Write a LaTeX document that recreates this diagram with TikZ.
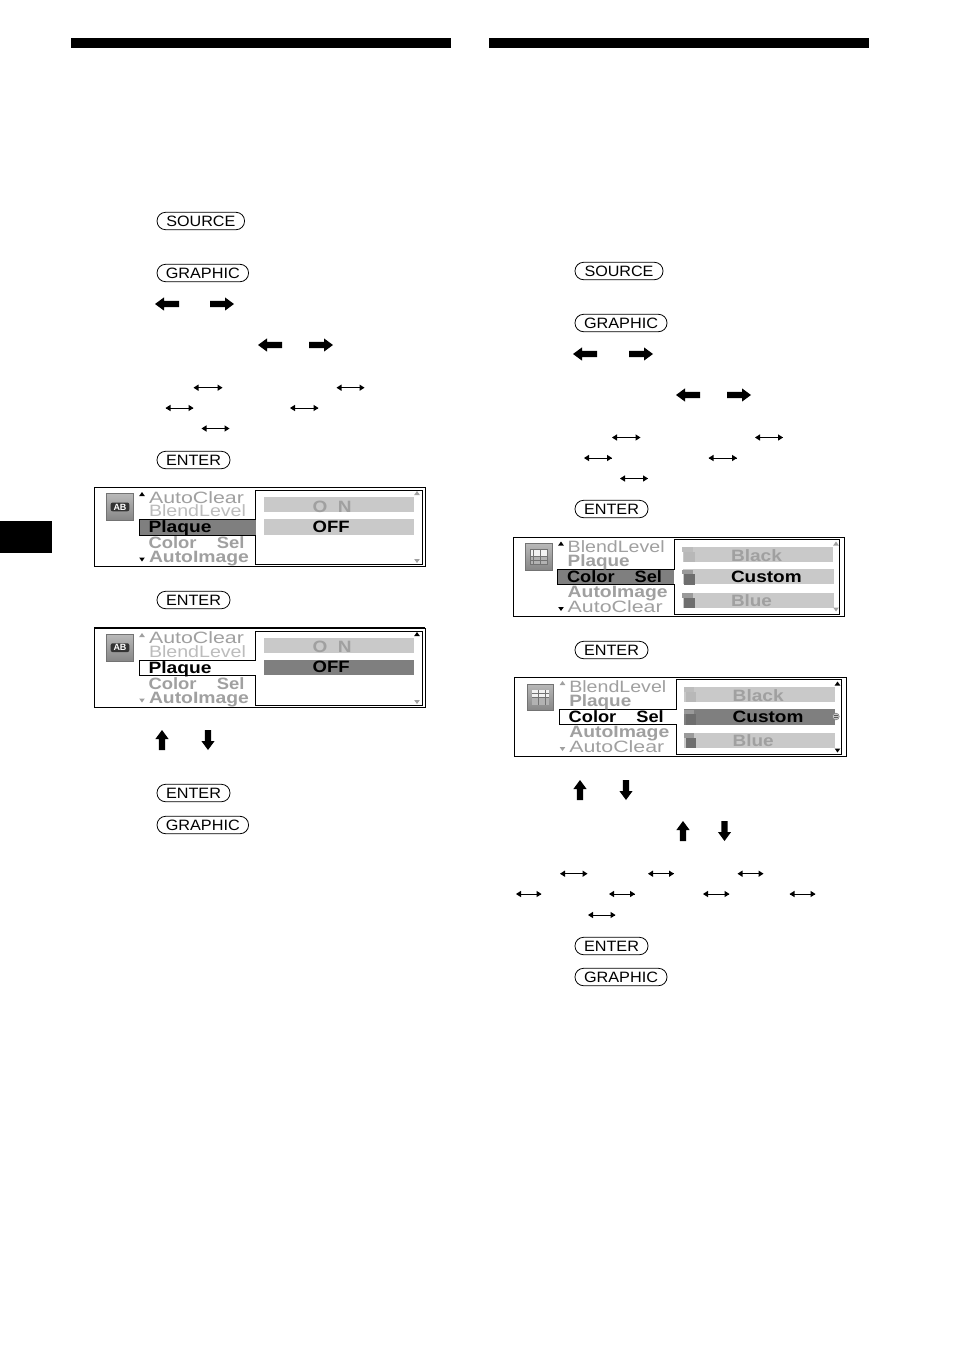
\documentclass[tikz,border=0pt]{standalone}
\usepackage{fontspec}
\setmainfont{Liberation Sans}
\usetikzlibrary{calc}
\definecolor{dim}{HTML}{A0A0A0}
\definecolor{barc}{HTML}{C9C9C9}
\definecolor{hil}{HTML}{7F7F7F}
\definecolor{swd}{HTML}{6E6E6E}
\definecolor{swm}{HTML}{9A9A9A}
\definecolor{swl}{HTML}{B8B8B8}
\newcounter{nn}
% label: x, baseline, colour, series, width, text
\newcommand{\lbl}[6]{\stepcounter{nn}\edef\nm{t\arabic{nn}}%
  \node[lab,text=#3] (\nm) at (#1,#2+0.4) {\resizebox{#5pt}{\height}{\fontsize{16.4}{16.4}#4\selectfont #6}};}
\newcommand{\key}[4]{\stepcounter{nn}\edef\nm{b\arabic{nn}}%
  \node[keybtn,minimum width=#3pt] (\nm) at (#1,#2) {\fontsize{15}{15}\selectfont\resizebox{\keyw{#4}pt}{\height}{#4}};}
\newcommand{\keyw}[1]{\csname kw#1\endcsname}
\expandafter\def\csname kwSOURCE\endcsname{69}
\expandafter\def\csname kwGRAPHIC\endcsname{74}
\expandafter\def\csname kwENTER\endcsname{55}
% thick horizontal arrows: centre x,y
\newcommand{\bigL}[2]{\fill[shift={(#1,#2)}] (-12,0)--(-3,-6.6)--(-3,-3.2)--(12,-3.2)--(12,3.2)--(-3,3.2)--(-3,6.6)--cycle;}
\newcommand{\bigR}[2]{\fill[shift={(#1,#2)},xscale=-1] (-12,0)--(-3,-6.6)--(-3,-3.2)--(12,-3.2)--(12,3.2)--(-3,3.2)--(-3,6.6)--cycle;}
\newcommand{\bigU}[2]{\fill[shift={(#1,#2)}] (0,-10)--(6.6,-1)--(3.2,-1)--(3.2,10)--(-3.2,10)--(-3.2,-1)--(-6.6,-1)--cycle;}
\newcommand{\bigD}[2]{\fill[shift={(#1,#2)},yscale=-1] (0,-10)--(6.6,-1)--(3.2,-1)--(3.2,10)--(-3.2,10)--(-3.2,-1)--(-6.6,-1)--cycle;}
% thin double arrow: x0,x1,y
\newcommand{\dbl}[3]{\draw[line width=0.9] (#1,#3)--(#2,#3);
  \fill (#1,#3)++(-0.5,0)--++(5,-3.2)--++(0,6.4)--cycle;
  \fill (#2,#3)++(0.5,0)--++(-5,-3.2)--++(0,6.4)--cycle;}
% small triangle: x,y,direction(1 up,-1 down),colour
\newcommand{\tri}[4]{\fill[#4,shift={(#1,#2)},yscale=#3] (-2.8,2)--(2.8,2)--(0,-2)--cycle;}
\newcommand{\iconbase}[2]{\shade[top color=gray!55,bottom color=gray!95,shift={(#1,#2)}] (0,0) rectangle (26.6,26.6);
  \draw[gray!90!black,line width=0.6,shift={(#1,#2)}] (0,0) rectangle (26.6,26.6);}
\newcommand{\abicon}[2]{\iconbase{#1}{#2}
  \fill[black!80,rounded corners=2,shift={(#1,#2)}] (4,8.8) rectangle (22.6,17.6);
  \stepcounter{nn}\edef\nm{i\arabic{nn}}%
  \node[inner sep=0pt,text=white] (\nm) at ($(#1,#2)+(13.3,13.2)$) {\fontsize{9}{9}\bfseries\selectfont AB};}
\newcommand{\gridicon}[2]{\iconbase{#1}{#2}
  \begin{scope}[shift={(#1,#2)}]
  \fill[black!55] (4.5,5.5) rectangle (22.2,21);
  \foreach \i in {0,...,4}{\foreach \j in {0,...,3}{
    \pgfmathsetmacro{\sh}{\j>=2 ? 70 : 95}
    \fill[white!\sh!black] (5+\i*3.45,6+\j*3.8) rectangle ++(2.8,3.1);}}
  \end{scope}}
\newcommand{\sw}[5]{\fill[#5] (#1-1.8,#2) rectangle (#3-2,#2+4.5);\fill[#4] (#1,#2+4.5) rectangle (#3,#2+15);}
\tikzset{
  lab/.style={anchor=base west,inner sep=0pt,outer sep=0pt},
  keybtn/.style={draw,line width=0.8,rounded corners=8.5pt,minimum height=17.4pt,inner sep=0pt,outer sep=0pt,anchor=center,text height=10.6pt,text depth=0pt},
  scr/.style={draw,line width=1,fill=white},
  pane/.style={draw,line width=1},
  rule/.style={fill=black}
}
\begin{document}
\begin{tikzpicture}[x=1pt,y=-1pt]
\useasboundingbox (0,0) rectangle (954,1352);
\fill[white] (0,0) rectangle (954,1352);
% page elements
\fill[rule] (71,38) rectangle (451,48);
\fill[rule] (489,38) rectangle (869,48);
\fill[rule] (0,521) rectangle (52,553);

% ---------- left column keys
\key{200.8}{221}{87.5}{SOURCE}
\key{202.8}{273}{91.5}{GRAPHIC}
\bigL{167}{304}\bigR{222}{304}
\bigL{270}{345}\bigR{321}{345}
\dbl{194}{222}{387.7}\dbl{337}{364}{387.7}
\dbl{166}{193}{408}\dbl{290.5}{318}{408}
\dbl{202}{229}{428.5}
\key{193.5}{460}{73}{ENTER}
\key{193.5}{600}{73}{ENTER}
\bigU{162}{740}\bigD{208}{740}
\key{193.5}{793}{73}{ENTER}
\key{202.8}{825}{91.5}{GRAPHIC}

% ---------- screen 1
\draw[scr] (94.3,487.3) rectangle (425.3,566.7);
\fill[hil] (139.3,519.3) rectangle (255.7,535.5);
\draw[pane] (255.7,490)--(255.7,519.3)--(139.3,519.3)--(139.3,535.5)--(255.7,535.5)--(255.7,564)--(422.6,564)--(422.6,490)--cycle;
\fill[barc] (264,497) rectangle (414,512);
\fill[barc] (264,519) rectangle (414,535);
\abicon{106.7}{493.7}
\tri{142}{494}{1}{black}\tri{142}{559.5}{-1}{black}
\tri{417}{493}{1}{dim}\tri{417}{561}{-1}{dim}
\lbl{149}{502.7}{dim}{}{95}{AutoClear}
\lbl{149}{516}{dim!70!white}{}{97}{BlendLevel}
\lbl{148.5}{531.7}{black}{\bfseries}{63}{Plaque}
\lbl{148.5}{548.3}{dim}{\bfseries}{96}{Color\hspace{1.1em}Sel}
\lbl{149}{561.7}{dim}{\bfseries}{100}{AutoImage}
\lbl{312.7}{511.7}{dim}{\bfseries}{39}{O\hspace{0.55em}N}
\lbl{312.7}{531.7}{black}{\bfseries}{37}{OFF}

% ---------- screen 2
\draw[scr] (94.3,628) rectangle (425.3,707.5);
\draw[line width=1.7] (94.3,628)--(425.3,628);
\draw[pane] (255.7,631)--(255.7,660)--(139.3,660)--(139.3,675.5)--(255.7,675.5)--(255.7,705)--(422.6,705)--(422.6,631)--cycle;
\fill[barc] (264,638) rectangle (414,653);
\fill[hil] (264,660) rectangle (414,675);
\abicon{106.7}{634.5}
\tri{142}{635}{1}{dim}\tri{142}{700.5}{-1}{dim}
\tri{417}{634}{1}{black}\tri{417}{702}{-1}{dim}
\lbl{149}{643.5}{dim}{}{95}{AutoClear}
\lbl{149}{656.7}{dim!70!white}{}{97}{BlendLevel}
\lbl{148.5}{672.7}{black}{\bfseries}{63}{Plaque}
\lbl{148.5}{689}{dim}{\bfseries}{96}{Color\hspace{1.1em}Sel}
\lbl{149}{702.7}{dim}{\bfseries}{100}{AutoImage}
\lbl{312.7}{652.5}{dim}{\bfseries}{39}{O\hspace{0.55em}N}
\lbl{312.7}{672.5}{black}{\bfseries}{37}{OFF}

% ---------- right column keys
\key{619}{271}{88}{SOURCE}
\key{621}{323}{92}{GRAPHIC}
\bigL{585}{354}\bigR{641}{354}
\bigL{688}{395}\bigR{739}{395}
\dbl{612.5}{640}{437.5}\dbl{755.5}{782.5}{437.5}
\dbl{584.5}{611.5}{458}\dbl{709}{736.5}{458}
\dbl{620.5}{647.5}{478.5}
\key{611.5}{509}{73}{ENTER}
\key{611.5}{650}{73}{ENTER}
\bigU{580}{790}\bigD{626}{790}
\bigU{683}{831}\bigD{724.5}{831}
\dbl{560.5}{587}{873.7}\dbl{648.5}{673.5}{873.7}\dbl{738}{763}{873.7}
\dbl{516.5}{541}{894}\dbl{609.5}{634.5}{894}\dbl{703.5}{729}{894}\dbl{790}{815}{894}
\dbl{588.5}{615}{915}
\key{611.5}{946}{73}{ENTER}
\key{621}{977}{92}{GRAPHIC}

% ---------- screen 3
\draw[scr] (513,537.3) rectangle (844,616.7);
\fill[hil] (557.3,569.3) rectangle (674.3,584.5);
\draw[pane] (674.3,539.5)--(674.3,569.3)--(557.3,569.3)--(557.3,584.5)--(674.3,584.5)--(674.3,614)--(839.7,614)--(839.7,539.5)--cycle;
\fill[barc] (682.5,547) rectangle (832.5,562);
\fill[barc] (682.5,569) rectangle (833.5,584);
\fill[barc] (682.5,593) rectangle (833.5,608);
\sw{684}{547}{694.5}{swl}{swl!70!barc}
\sw{684}{569.5}{694.5}{swd}{swm}
\sw{684}{593}{694.5}{swd}{swm}
\gridicon{525.5}{543.5}
\tri{561}{543.5}{1}{black}\tri{561}{609}{-1}{black}
\tri{836}{543.5}{1}{dim}\tri{836}{609.5}{-1}{dim}
\lbl{567.7}{551.7}{dim}{}{97}{BlendLevel}
\lbl{567.7}{566}{dim}{\bfseries}{62}{Plaque}
\lbl{567}{581.7}{black}{\bfseries}{95}{Color\hspace{1.1em}Sel}
\lbl{567.7}{597.3}{dim}{\bfseries}{100}{AutoImage}
\lbl{567.7}{612.5}{dim}{}{95}{AutoClear}
\lbl{731}{561}{dim}{\bfseries}{51}{Black}
\lbl{731}{581.7}{black}{\bfseries}{70.7}{Custom}
\lbl{731}{606}{dim}{\bfseries}{41}{Blue}

% ---------- screen 4
\draw[scr] (514.5,677) rectangle (846,756.7);
\draw[pane] (676,679.5)--(676,709.3)--(559.3,709.3)--(559.3,724.8)--(676,724.8)--(676,754.5)--(841.3,754.5)--(841.3,679.5)--cycle;
\fill[barc] (684,687) rectangle (834.5,702);
\fill[hil] (684,709) rectangle (834.5,725);
\fill[barc] (684,733) rectangle (834.5,748);
\sw{686}{687}{696}{swl}{swl!70!barc}
\sw{686}{709.5}{696}{swd}{swm}
\sw{686}{733}{696}{swd}{swm}
\gridicon{527}{684}
\tri{562.5}{683}{1}{dim}\tri{562.5}{749}{-1}{dim}
\tri{837.5}{683.5}{1}{black}\tri{837.5}{750.5}{-1}{black}
\draw[gray,line width=0.6,fill=barc] (835.8,716.5) circle (3.4);
\draw[gray!70!black,line width=0.5] (833.6,715.3)--(838,715.3) (833.6,717.7)--(838,717.7);
\lbl{569.3}{691.7}{dim}{}{97}{BlendLevel}
\lbl{569.3}{706}{dim}{\bfseries}{62}{Plaque}
\lbl{568.7}{721.7}{black}{\bfseries}{95}{Color\hspace{1.1em}Sel}
\lbl{569.3}{737.3}{dim}{\bfseries}{100}{AutoImage}
\lbl{569.3}{752.5}{dim}{}{95}{AutoClear}
\lbl{732.7}{701}{dim}{\bfseries}{51}{Black}
\lbl{732.7}{721.7}{black}{\bfseries}{70.7}{Custom}
\lbl{732.7}{746}{dim}{\bfseries}{41}{Blue}
\end{tikzpicture}
\end{document}
